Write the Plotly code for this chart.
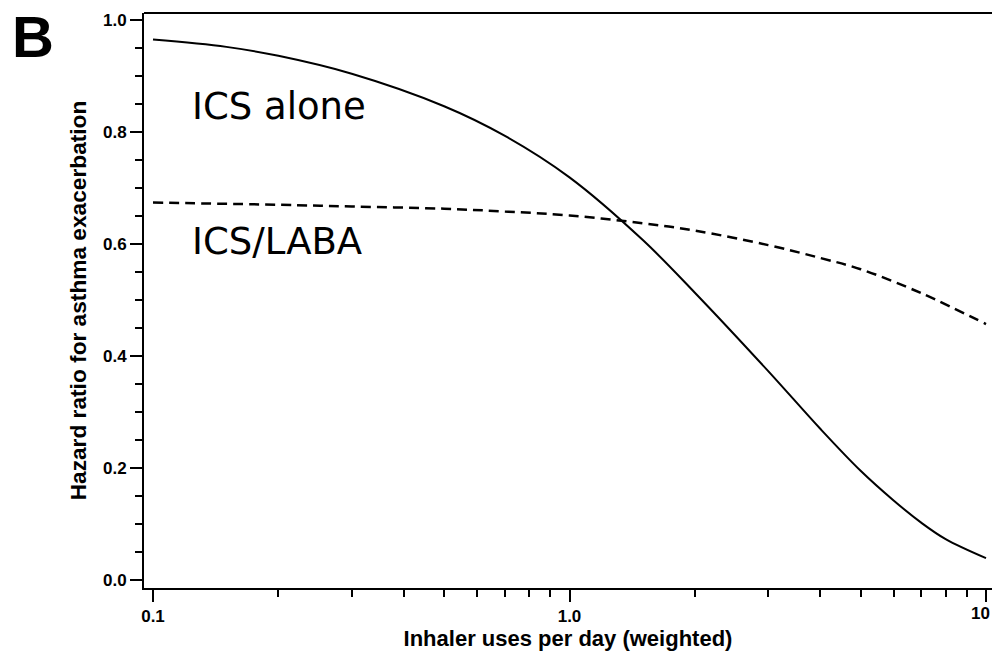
import math
import plotly.graph_objects as go

# ---- data ----
ics_x = [0.1, 0.15, 0.2, 0.3, 0.5, 0.7, 1.0, 1.5, 2, 3, 4, 5, 6, 7, 8, 10]
ics_y = [0.965, 0.952, 0.936, 0.904, 0.846, 0.793, 0.719, 0.607, 0.513,
         0.373, 0.270, 0.195, 0.142, 0.102, 0.073, 0.039]

laba_x = [0.1, 0.2, 0.3, 0.5, 0.7, 1.0, 1.5, 2, 3, 4, 5, 7, 10]
laba_y = [0.674, 0.670, 0.667, 0.663, 0.658, 0.651, 0.637, 0.624, 0.598,
          0.575, 0.555, 0.512, 0.457]

x_tickvals = [0.1, 1, 10]
x_ticktext = ["0.1", "1.0", "10"]
x_minor = [0.2, 0.3, 0.4, 0.5, 0.6, 0.7, 0.8, 0.9, 2, 3, 4, 5, 6, 7, 8, 9]
y_tickvals = [0.0, 0.2, 0.4, 0.6, 0.8, 1.0]
y_ticktext = ["0.0", "0.2", "0.4", "0.6", "0.8", "1.0"]

x_title = "Inhaler uses per day (weighted)"
y_title = "Hazard ratio for asthma exacerbation"
label_ics = "ICS alone"
label_laba = "ICS/LABA"
panel = "B"

fig = go.Figure()
fig.add_trace(go.Scatter(x=ics_x, y=ics_y, mode="lines",
                         line=dict(color="black", width=2, shape="spline"),
                         showlegend=False, hoverinfo="skip"))
fig.add_trace(go.Scatter(x=laba_x, y=laba_y, mode="lines",
                         line=dict(color="black", width=2.5, dash="10px,6px", shape="spline"),
                         showlegend=False, hoverinfo="skip"))

tickfont = dict(family="Liberation Sans, Arial, sans-serif", size=17, color="black")
xtitlefont = dict(family="Liberation Sans, Arial, sans-serif", size=22, color="black")
ytitlefont = dict(family="Liberation Sans, Arial, sans-serif", size=22.7, color="black")

fig.update_xaxes(type="log", range=[-1.0216, 1.0144],
                 tickvals=x_tickvals, ticktext=["<b>" + t + "</b>" for t in x_ticktext],
                 ticks="outside", ticklen=12, tickwidth=1.5, tickcolor="black",
                 minor=dict(tickvals=x_minor, ticks="outside", ticklen=7,
                            tickwidth=1.5, tickcolor="black", showgrid=False),
                 showline=True, linewidth=2, linecolor="black",
                 showgrid=False, zeroline=False, tickfont=tickfont,
                 title=dict(text="<b>" + x_title + "</b>", font=xtitlefont, standoff=6))
fig.update_yaxes(range=[-0.0143, 1.0125],
                 tickvals=y_tickvals, ticktext=["<b>" + t + "</b>" for t in y_ticktext],
                 ticks="outside", ticklen=12, tickwidth=1.5, tickcolor="black",
                 minor=dict(dtick=0.05, ticks="outside", ticklen=7,
                            tickwidth=1.5, tickcolor="black", showgrid=False),
                 showline=True, linewidth=2, linecolor="black",
                 showgrid=False, zeroline=False, tickfont=tickfont,
                 title=dict(text="<b>" + y_title + "</b>", font=ytitlefont, standoff=10))

# top frame line
fig.add_shape(type="line", xref="paper", yref="paper", x0=0, x1=1, y0=1, y1=1,
              line=dict(color="black", width=2))

lab_font = dict(family="DejaVu Sans, Verdana, sans-serif", size=37, color="black")
fig.add_annotation(x=math.log10(0.1) + 0.088, y=0.845, xref="x", yref="y",
                   text=label_ics, showarrow=False, xanchor="left", yanchor="middle",
                   font=lab_font)
fig.add_annotation(x=math.log10(0.1) + 0.088, y=0.604, xref="x", yref="y",
                   text=label_laba, showarrow=False, xanchor="left", yanchor="middle",
                   font=lab_font)

W, H = 992, 651
ML, MR, MT, MB = 144, 0, 13, 63
pw, ph = W - ML - MR, H - MT - MB

# the "10" tick label at the right edge
fig.add_annotation(x=1, y=0, xref="paper", yref="paper",
                   yshift=-14, text="<b>" + x_ticktext[-1] + "</b>", showarrow=False,
                   xanchor="right", yanchor="top", font=tickfont)

fig.add_annotation(x=(33 - ML) / pw, y=(H - MB - 36) / ph, xref="paper", yref="paper",
                   xanchor="center", yanchor="middle",
                   text="<b>" + panel + "</b>", showarrow=False,
                   font=dict(family="Liberation Sans, Arial, sans-serif", size=58, color="black"))

fig.update_layout(width=W, height=H,
                  margin=dict(l=ML, r=MR, t=MT, b=MB),
                  paper_bgcolor="white", plot_bgcolor="white")

fig.write_html("out.html", config={"displayModeBar": False},
               post_script="document.body.style.margin='0';document.body.style.overflow='hidden';")
